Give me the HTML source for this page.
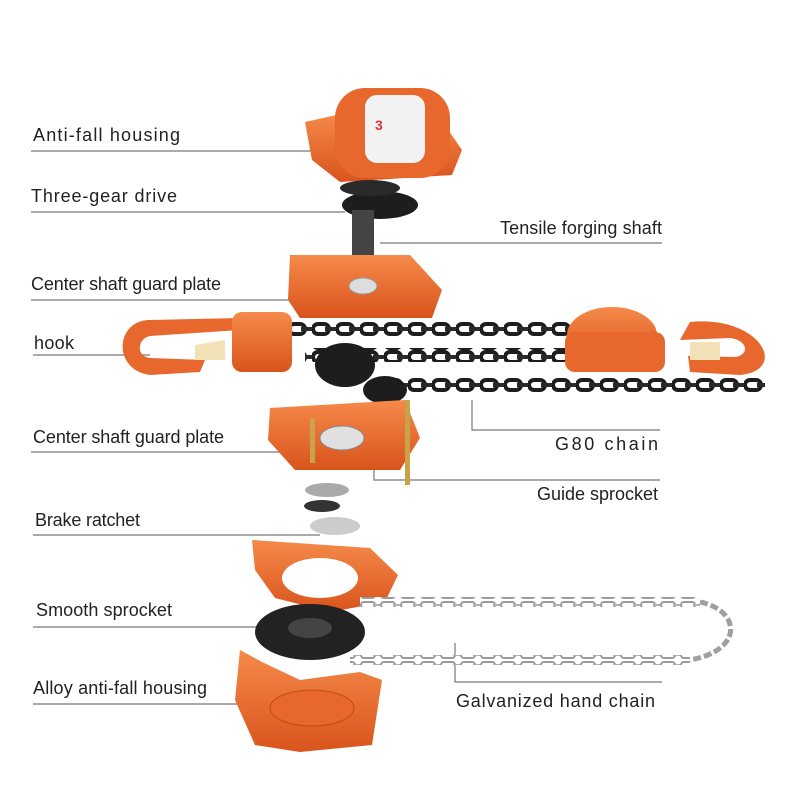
<!DOCTYPE html>
<html><head><meta charset="utf-8"><style>
html,body{margin:0;padding:0;background:#fff;}
svg{display:block}
text{font-family:"Liberation Sans",sans-serif;font-size:18px;fill:#222}
</style></head><body>
<svg width="800" height="800" viewBox="0 0 800 800" xmlns="http://www.w3.org/2000/svg">
<defs>
<linearGradient id="or" x1="0" y1="0" x2="0" y2="1"><stop offset="0" stop-color="#f58a4a"/><stop offset="1" stop-color="#d9541c"/></linearGradient>
<pattern id="blk" width="24" height="14" patternUnits="userSpaceOnUse"><rect width="24" height="14" fill="#fff"/><rect x="1" y="2" width="16" height="10" rx="5" fill="none" stroke="#1d1d1d" stroke-width="4"/><rect x="13" y="5" width="12" height="4" fill="#2a2a2a"/></pattern>
<pattern id="slv" width="20" height="10" patternUnits="userSpaceOnUse"><rect width="20" height="10" fill="#fff"/><rect x="1" y="2" width="14" height="6" rx="3" fill="none" stroke="#9a9a9a" stroke-width="2"/><rect x="13" y="4" width="8" height="2" fill="#b0b0b0"/></pattern>
</defs>
<rect width="800" height="800" fill="#fff"/>
<g stroke="#777" stroke-width="1.2" fill="none">
<line x1="31" y1="151" x2="323" y2="151"/>
<line x1="31" y1="212" x2="345" y2="212"/>
<line x1="380" y1="243" x2="662" y2="243"/>
<line x1="31" y1="300" x2="315" y2="300"/>
<line x1="33" y1="355" x2="150" y2="355"/>
<line x1="31" y1="452" x2="300" y2="452"/>
<polyline points="472,400 472,430 660,430"/>
<polyline points="374,400 374,480 660,480"/>
<line x1="33" y1="535" x2="320" y2="535"/>
<line x1="33" y1="627" x2="300" y2="627"/>
<polyline points="455,643 455,682 662,682"/>
<line x1="33" y1="704" x2="250" y2="704"/>
</g>
<path d="M305 122 L350 112 L440 118 L462 150 L452 175 L340 182 L312 160 Z" fill="url(#or)"/>
<rect x="335" y="88" width="115" height="90" rx="30" fill="#e8672c"/>
<rect x="365" y="95" width="60" height="68" rx="12" fill="#f2f2f2"/>
<text x="375" y="130" style="font-size:14px;fill:#d33;font-weight:bold">3</text>
<ellipse cx="380" cy="205" rx="38" ry="14" fill="#1d1d1d"/>
<ellipse cx="370" cy="188" rx="30" ry="8" fill="#2a2a2a"/>
<rect x="352" y="210" width="22" height="50" fill="#444"/>
<rect x="357" y="255" width="12" height="30" fill="#333"/>
<path d="M290 255 L410 255 L442 290 L432 318 L300 318 L288 300 Z" fill="url(#or)"/>
<ellipse cx="363" cy="286" rx="14" ry="8" fill="#ddd" stroke="#999"/>
<rect x="250" y="322" width="330" height="14" fill="url(#blk)"/>
<rect x="305" y="348" width="300" height="14" fill="url(#blk)"/>
<rect x="395" y="378" width="370" height="14" fill="url(#blk)"/>
<ellipse cx="345" cy="365" rx="30" ry="22" fill="#1d1d1d"/>
<ellipse cx="385" cy="390" rx="22" ry="14" fill="#1d1d1d"/>
<path d="M150 320 C115 320 112 370 150 375 L200 372 L205 360 L150 358 C135 356 138 338 150 336 L240 330 L240 318 Z" fill="#e8672c"/>
<polygon points="195,345 225,340 225,360 195,360" fill="#f3e2b8"/>
<rect x="232" y="312" width="60" height="60" rx="10" fill="url(#or)"/>
<ellipse cx="612" cy="335" rx="45" ry="28" fill="url(#or)"/>
<rect x="565" y="332" width="100" height="40" rx="10" fill="#e8672c"/>
<path d="M690 322 C760 315 790 370 740 375 L690 372 L688 356 L735 357 C750 355 748 340 730 338 L680 340 Z" fill="#e8672c"/>
<polygon points="690,342 720,342 720,360 690,360" fill="#f3e2b8"/>
<path d="M270 408 L405 400 L420 438 L400 470 L295 470 L268 440 Z" fill="url(#or)"/>
<ellipse cx="342" cy="438" rx="22" ry="12" fill="#e0e0e0" stroke="#888"/>
<rect x="310" y="418" width="5" height="45" fill="#c9a24a"/>
<rect x="405" y="400" width="5" height="85" fill="#c9a24a"/>
<ellipse cx="327" cy="490" rx="22" ry="7" fill="#aaa"/>
<ellipse cx="322" cy="506" rx="18" ry="6" fill="#333"/>
<ellipse cx="335" cy="526" rx="25" ry="9" fill="#ccc"/>
<path d="M252 540 L370 548 L398 575 L385 602 L330 612 L275 598 L255 570 Z" fill="url(#or)"/>
<ellipse cx="320" cy="578" rx="38" ry="20" fill="#fff"/>
<ellipse cx="310" cy="632" rx="55" ry="28" fill="#222"/>
<ellipse cx="310" cy="628" rx="22" ry="10" fill="#444"/>
<rect x="360" y="597" width="340" height="10" fill="url(#slv)"/>
<rect x="350" y="655" width="340" height="10" fill="url(#slv)"/>
<path d="M700 602 C740 610 745 650 690 660" fill="none" stroke="#a0a0a0" stroke-width="5" stroke-dasharray="8 3"/>
<path d="M240 650 L262 662 L300 680 L360 672 L382 680 L372 745 L300 752 L255 745 L235 700 Z" fill="url(#or)"/>
<ellipse cx="312" cy="708" rx="42" ry="18" fill="#e8672c" stroke="#c24a15"/>
<text x="33" y="141" textLength="147" lengthAdjust="spacing">Anti-fall housing</text>
<text x="31" y="202" textLength="146" lengthAdjust="spacing">Three-gear drive</text>
<text x="500" y="234" textLength="162" lengthAdjust="spacing">Tensile forging shaft</text>
<text x="31" y="290" textLength="190" lengthAdjust="spacing">Center shaft guard plate</text>
<text x="34" y="349" textLength="40" lengthAdjust="spacing">hook</text>
<text x="33" y="443" textLength="191" lengthAdjust="spacing">Center shaft guard plate</text>
<text x="555" y="450" textLength="103" lengthAdjust="spacing">G80 chain</text>
<text x="537" y="500" textLength="121" lengthAdjust="spacing">Guide sprocket</text>
<text x="35" y="526" textLength="105" lengthAdjust="spacing">Brake ratchet</text>
<text x="36" y="616" textLength="136" lengthAdjust="spacing">Smooth sprocket</text>
<text x="456" y="707" textLength="199" lengthAdjust="spacing">Galvanized hand chain</text>
<text x="33" y="694" textLength="174" lengthAdjust="spacing">Alloy anti-fall housing</text>
</svg>
</body></html>
